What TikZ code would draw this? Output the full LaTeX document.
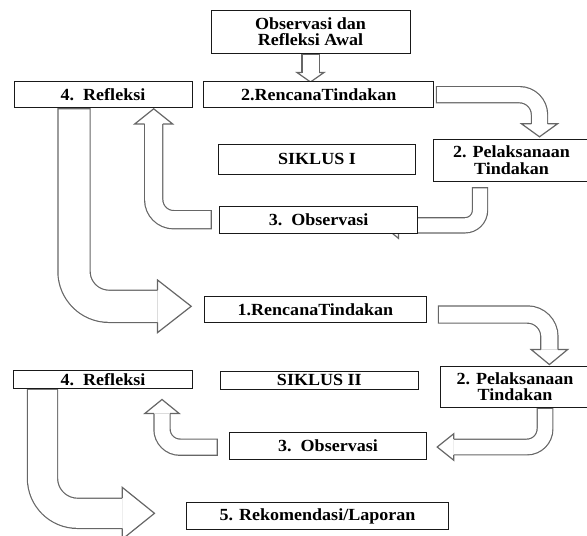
\documentclass[tikz,border=0pt]{standalone}
\usepackage{fontspec}
\setmainfont{Liberation Serif}[FakeStretch=1.06]
\usetikzlibrary{backgrounds}
\colorlet{arw}{black!60}
\tikzset{
    box/.style={draw=black!90, line width=1pt, fill=white, inner sep=0pt, align=center,
        font=\fontsize{17}{16.7}\selectfont\bfseries},
    shaft/.style={draw=arw, line width=#1+2.4, postaction={draw=white, line width=#1, shorten <=1.2pt}},
    pics/bhead/.style args={#1/#2/#3}{code={
        \draw[arw, line width=1.2pt] (0,#1) -- (0,#2) -- (#3,0) -- (0,-#2) -- (0,-#1);
    }}
}

\begin{document}
\begin{tikzpicture}[x=1pt,y=-1pt]
            \useasboundingbox (0,0) rectangle (587,536);
            \node[box, minimum width=199, minimum height=42.6] (obs0) at (310.5,31.7) {Observasi dan\\Refleksi Awal};
            \node[box, minimum width=178, minimum height=26] (ref1) at (103,94.7) {4.~~Refleksi};
            \node[box, minimum width=229.5, minimum height=26] (rt1) at (318.7,94.7) {2.RencanaTindakan};
            \node[box, minimum width=156, minimum height=42.4] (pt1) at (511.5,160.5) {2. Pelaksanaan\\Tindakan};
            \node[box, minimum width=197, minimum height=29.7] (sik1) at (317,159.2) {SIKLUS I};
            \node[box, minimum width=197.7, minimum height=27.3] (obs1) at (318.6,219.7) {3.~~Observasi};
            \node[box, minimum width=222.8, minimum height=26] (rt2) at (315.4,309.7) {1.RencanaTindakan};
            \node[box, minimum width=150, minimum height=41.3] (pt2) at (515,386.7) {2. Pelaksanaan\\Tindakan};
            \node[box, minimum width=179.4, minimum height=17.3] (ref2) at (103,379.6) {4.~~Refleksi};
            \node[box, minimum width=198.6, minimum height=18.3] (sik2) at (319.3,380.2) {SIKLUS II};
            \node[box, minimum width=197.8, minimum height=26.6] (obs2) at (328,446) {3.~~Observasi};
            \node[box, minimum width=262, minimum height=27] (rek) at (317.5,516) {5. Rekomendasi/Laporan};
            \begin{scope}[on background layer]
                \draw[shaft=16] (obs0.south) -- ++(0,19) coordinate (h0);
                \pic[rotate=-90] at (h0) {bhead=8.6/13.5/9.5};
                \draw[shaft=15, rounded corners=20] ([xshift=2pt]rt1.east)
                    -| ([xshift=28pt,yshift=15pt]pt1.north) coordinate (h1);
                \pic[rotate=-90] at (h1) {bhead=8.1/18/13};
                \draw[shaft=17, rounded corners=20] ([xshift=-7.5pt]obs1.west)
                    -| ([xshift=50.7pt,yshift=-15.8pt]ref1.south) coordinate (h2);
                \pic[rotate=90] at (h2) {bhead=9.1/19/15.2};
                \draw[shaft=14, rounded corners=15] ([xshift=-31.5pt,yshift=-5pt]pt1.south)
                    |- ([xshift=-19.5pt,yshift=-5.6pt]obs1.east) coordinate (h3);
                \pic[rotate=180] at (h3) {bhead=7.6/13/16};
                \draw[shaft=31, rounded corners=35] ([xshift=-29pt]ref1.south)
                    |- ([xshift=-46pt,yshift=3.4pt]rt2.west) coordinate (h4);
                \pic at (h4) {bhead=16.1/26.3/33.7};
                \draw[shaft=16, rounded corners=22] ([xshift=10.5pt,yshift=-4.8pt]rt2.east)
                    -| ([xshift=34.4pt,yshift=16pt]pt2.north) coordinate (h5);
                \pic[rotate=-90] at (h5) {bhead=8.6/18.2/15};
                \draw[shaft=14.5, rounded corners=18] ([xshift=30pt]pt2.south)
                    |- ([xshift=26.4pt,yshift=-1pt]obs2.east) coordinate (h6);
                \pic[rotate=180] at (h6) {bhead=7.85/13.3/16.6};
                \draw[shaft=15, rounded corners=18] ([xshift=-10.7pt,yshift=-1.2pt]obs2.west)
                    -| ([xshift=59pt,yshift=-24.75pt]ref2.south) coordinate (h7);
                \pic[rotate=90] at (h7) {bhead=8.1/17.2/14};
                \draw[shaft=29, rounded corners=35] ([xshift=-60.5pt]ref2.south)
                    |- ([xshift=-63.8pt,yshift=2.7pt]rek.west) coordinate (h8);
                \pic at (h8) {bhead=15.1/26/32.3};
            \end{scope}
\end{tikzpicture}
\end{document}
